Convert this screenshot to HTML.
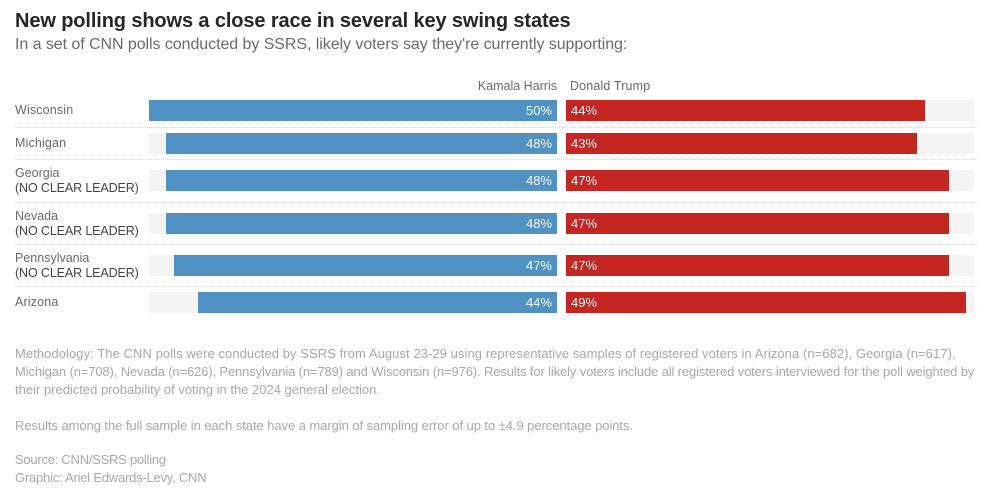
<!DOCTYPE html>
<html lang="en">
<head>
<meta charset="utf-8">
<title>New polling shows a close race in several key swing states</title>
<style>
html,body{margin:0;padding:0;background:#fff;}
body{width:988px;height:492px;position:relative;overflow:hidden;font-family:"Liberation Sans",sans-serif;}
.t{position:absolute;left:15px;white-space:pre;}
#title{top:9px;font-size:20px;font-weight:700;color:#262626;line-height:24px;letter-spacing:-0.12px;}
#subtitle{top:35px;font-size:16px;color:#6a6a6a;line-height:20px;letter-spacing:-0.06px;}
.f{font-size:13px;color:#a8a8a8;line-height:18px;}
#chart{position:absolute;left:0;top:0;}
</style>
</head>
<body>
<div id="title" class="t">New polling shows a close race in several key swing states</div>
<div id="subtitle" class="t">In a set of CNN polls conducted by SSRS, likely voters say they're currently supporting:</div>
<svg id="chart" width="988" height="340" xmlns="http://www.w3.org/2000/svg"></svg>
<div class="t f" style="top:345px;letter-spacing:0.066px">Methodology: The CNN polls were conducted by SSRS from August 23-29 using representative samples of registered voters in Arizona (n=682), Georgia (n=617),</div>
<div class="t f" style="top:363px;letter-spacing:-0.13px">Michigan (n=708), Nevada (n=626), Pennsylvania (n=789) and Wisconsin (n=976). Results for likely voters include all registered voters interviewed for the poll weighted by</div>
<div class="t f" style="top:381px">their predicted probability of voting in the 2024 general election.</div>
<div class="t f" style="top:417px;letter-spacing:-0.065px">Results among the full sample in each state have a margin of sampling error of up to ±4.9 percentage points.</div>
<div class="t f" style="top:451px;letter-spacing:-0.25px">Source: CNN/SSRS polling</div>
<div class="t f" style="top:469px;letter-spacing:-0.22px">Graphic: Ariel Edwards-Levy, CNN</div>
<script>
const states = ['Wisconsin','Michigan','Georgia','Nevada','Pennsylvania','Arizona'];
const harrisValues = [50,48,48,48,47,44];
const trumpValues = [44,43,47,47,47,49];
const noClearLeader = [false,false,true,true,true,false];
const seriesNames = ['Kamala Harris','Donald Trump'];

const svg = document.getElementById('chart');
const NS = 'http://www.w3.org/2000/svg';
const AXIS_MAX = 50;
const HARRIS_ZERO = 557, TRUMP_ZERO = 566, AXIS_LEN = 408, SCALE_LEN = 407.7;
function scaleLen(v){ return Math.round(v / AXIS_MAX * SCALE_LEN); }
function harrisLeft(v){ return HARRIS_ZERO - scaleLen(v); }
function make(tag, attrs, text){
  const el = document.createElementNS(NS, tag);
  for (const k in attrs) el.setAttribute(k, attrs[k]);
  if (text !== undefined) el.textContent = text;
  svg.appendChild(el);
  return el;
}
function label(x, y, str, size, fill, anchor, spacing){
  return make('text', {x:x, y:y, 'font-size':size, fill:fill, 'text-anchor':anchor||'start', 'letter-spacing':spacing||0, 'font-family':'"Liberation Sans", sans-serif'}, str);
}

let legendEl = label(HARRIS_ZERO, 90, seriesNames[0], 12.5, '#6a6a6a', 'end');


legendEl = label(TRUMP_ZERO + 4, 90, seriesNames[1], 12.5, '#6a6a6a', 'start', 0.15);



let rowTop = 94;
states.forEach((state, i) => {
  const two = noClearLeader[i];
  const y = Math.round(rowTop + (two ? 11 : 6));
  const h = 21;
  const slug = state.toLowerCase();
  let n;

  n = make('rect', {x:HARRIS_ZERO - AXIS_LEN, y:y, width:AXIS_LEN, height:h, fill:'#f4f4f4'});
  
  
  n = make('rect', {x:TRUMP_ZERO, y:y, width:AXIS_LEN, height:h, fill:'#f4f4f4'});
  
  

  n = make('rect', {x:harrisLeft(harrisValues[i]), y:y, width:scaleLen(harrisValues[i]), height:h, fill:'#5092c3'});
  
  
  n = make('rect', {x:TRUMP_ZERO, y:y, width:scaleLen(trumpValues[i]), height:h, fill:'#c52622'});
  
  

  n = label(HARRIS_ZERO - 5, y + 15, harrisValues[i] + '%', 13, '#fff', 'end');
  
  
  n = label(TRUMP_ZERO + 5, y + 15, trumpValues[i] + '%', 13, '#fff');
  
  

  if (two) {
    n = label(15, y + 7, state, 12.5, '#6a6a6a');
    
    
    n = label(15, y + 22, '(NO CLEAR LEADER)', 12.5, '#444', 'start', -0.12);
    
    
  } else {
    n = label(15, y + 14, state, 12.5, '#6a6a6a', 'start', 0.15);
    
    
  }

  rowTop += two ? 42.4 : 32.6;
  if (i < states.length - 1) {
    const sy = Math.round(rowTop) + 0.5;
    n = make('line', {x1:15, x2:978, y1:sy, y2:sy, stroke:'#d4d4d4', 'stroke-width':1, 'stroke-dasharray':'1 1'});
    
    
  }
});
</script>
</body>
</html>
